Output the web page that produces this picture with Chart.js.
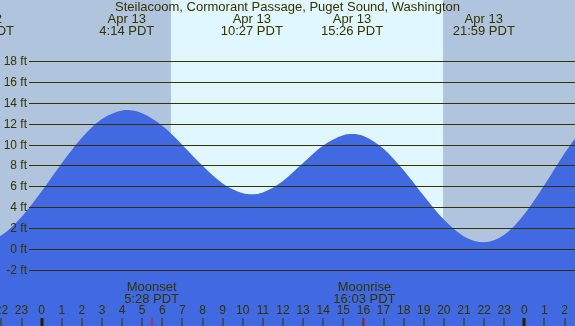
<!DOCTYPE html>
<html>
<head>
<meta charset="utf-8">
<script src="https://cdn.jsdelivr.net/npm/chart.js@4/dist/chart.umd.min.js"></script>
<style>
  html, body { margin: 0; padding: 0; background: #b0c4de; }
  canvas { display: block; }
</style>
</head>
<body>
<canvas id="c" width="575" height="326"></canvas>
<script>
// ---- data (hours from midnight Apr 13, PDT) ----
const tideHours = [-3.2, -3, -2, -1, 0, 1, 2, 3, 4, 4.23, 5, 6, 7, 8, 9, 10, 10.45, 11, 12, 13, 14, 15, 15.43, 16, 17, 18, 19, 20, 21, 21.98, 23, 24, 25, 26, 27];
const tideFeet  = [0.5, 0.52, 1.31, 3.07, 5.52, 8.21, 10.66, 12.44, 13.27, 13.3, 13.0, 11.79, 9.96, 7.96, 6.28, 5.35, 5.25, 5.42, 6.52, 8.23, 9.91, 10.89, 11.0, 10.81, 9.6, 7.54, 5.1, 2.82, 1.21, 0.65, 1.37, 3.34, 6.13, 9.17, 11.82];

const eventHours = [-2.92, 4.233, 10.45, 15.433, 21.983];
const eventDates = ["Apr 12", "Apr 13", "Apr 13", "Apr 13", "Apr 13"];
const eventTimes = ["21:05 PDT", "4:14 PDT", "10:27 PDT", "15:26 PDT", "21:59 PDT"];

const yTickValues = [18, 16, 14, 12, 10, 8, 6, 4, 2, 0, -2];
const yTickLabels = ["18 ft", "16 ft", "14 ft", "12 ft", "10 ft", "8 ft", "6 ft", "4 ft", "2 ft", "0 ft", "-2 ft"];

const hourTicks = [-2, -1, 0, 1, 2, 3, 4, 5, 6, 7, 8, 9, 10, 11, 12, 13, 14, 15, 16, 17, 18, 19, 20, 21, 22, 23, 24, 25, 26];
const hourLabels = ["22", "23", "0", "1", "2", "3", "4", "5", "6", "7", "8", "9", "10", "11", "12", "13", "14", "15", "16", "17", "18", "19", "20", "21", "22", "23", "0", "1", "2"];

const sunriseHour = 6.43;
const sunsetHour = 19.96;

const moonHours = [5.467, 16.05];
const moonNames = ["Moonset", "Moonrise"];
const moonTimes = ["5:28 PDT", "16:03 PDT"];

const titleText = "Steilacoom, Cormorant Passage, Puget Sound, Washington";

// ---- styles ----
const TXT = "#333300";
const FONT = '"Liberation Sans", Arial, sans-serif';
const NIGHT = "#b0c4de";
const DAY = "#e0f7ff";
const WATER = "#4169e1";

const decor = {
  id: "decor",
  beforeDraw(chart) {
    const ctx = chart.ctx, x = chart.scales.x;
    const W = chart.width, H = chart.height;
    ctx.save();
    ctx.fillStyle = NIGHT;
    ctx.fillRect(0, 0, W, H);
    const x1 = x.getPixelForValue(sunriseHour), x2 = x.getPixelForValue(sunsetHour);
    ctx.fillStyle = DAY;
    ctx.fillRect(x1, 0, x2 - x1, H);
    ctx.restore();
  },
  afterDatasetsDraw(chart) {
    const ctx = chart.ctx, x = chart.scales.x, y = chart.scales.y;
    const W = chart.width, H = chart.height;
    ctx.save();
    // grid lines
    ctx.strokeStyle = TXT;
    ctx.lineWidth = 1;
    yTickValues.forEach((v, i) => {
      const py = Math.round(y.getPixelForValue(v)) + 0.5;
      ctx.beginPath();
      ctx.moveTo(29, py);
      ctx.lineTo(W, py);
      ctx.stroke();
      ctx.fillStyle = TXT;
      ctx.font = "12px " + FONT;
      ctx.textAlign = "right";
      ctx.textBaseline = "middle";
      ctx.fillText(yTickLabels[i], 27, py);
    });
    // title
    ctx.fillStyle = TXT;
    ctx.font = "13px " + FONT;
    ctx.textAlign = "center";
    ctx.textBaseline = "middle";
    ctx.fillText(titleText, W / 2, 7);
    // tide events
    eventHours.forEach((h, i) => {
      const px = x.getPixelForValue(h);
      ctx.fillText(eventDates[i], px, 19.5);
      ctx.fillText(eventTimes[i], px, 31.5);
    });
    // moon events
    moonHours.forEach((h, i) => {
      const px = x.getPixelForValue(h);
      ctx.fillStyle = TXT;
      ctx.fillText(moonNames[i], px, 287.5);
      ctx.fillText(moonTimes[i], px, 299.5);
      ctx.fillStyle = "#ff0000";
      ctx.fillRect(Math.round(px) - 0.5, 318, 1, H - 318);
    });
    // hour labels & ticks
    ctx.font = "12px " + FONT;
    hourTicks.forEach((h, i) => {
      const px = x.getPixelForValue(h);
      ctx.fillStyle = TXT;
      ctx.fillText(hourLabels[i], px, 311);
      if (hourLabels[i] === "0") {
        ctx.fillStyle = "#222200";
        ctx.fillRect(Math.round(px) - 1.5, 318, 3, H - 318);
      } else {
        ctx.fillRect(Math.round(px) - 0.5, 318, 1, H - 318);
      }
    });
    ctx.restore();
  }
};

new Chart(document.getElementById("c"), {
  type: "line",
  data: {
    datasets: [{
      data: tideHours.map((h, i) => ({ x: h, y: tideFeet[i] })),
      fill: "start",
      backgroundColor: WATER,
      borderColor: "rgba(0,0,0,0)",
      borderWidth: 0,
      pointRadius: 0,
      cubicInterpolationMode: "monotone"
    }]
  },
  options: {
    responsive: false,
    animation: false,
    devicePixelRatio: 1,
    layout: { padding: 0 },
    plugins: { legend: { display: false }, tooltip: { enabled: false }, title: { display: false } },
    scales: {
      x: { type: "linear", display: false, min: -2.07, max: 26.52 },
      y: { type: "linear", display: false, min: -7.37, max: 23.84 }
    }
  },
  plugins: [decor]
});
</script>
</body>
</html>
